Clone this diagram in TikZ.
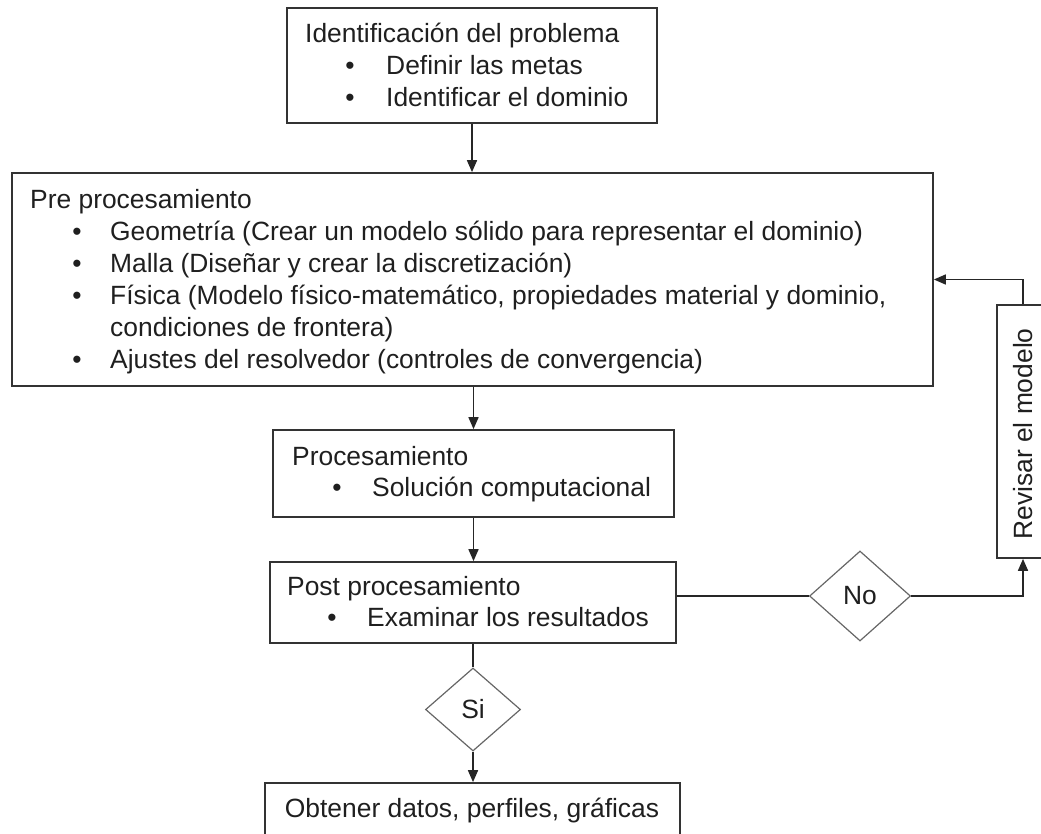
\documentclass[tikz,border=0pt]{standalone}
\usepackage{fontspec}
\setmainfont{Liberation Sans}
\usetikzlibrary{arrows.meta,shapes.geometric}
\begin{document}
\begin{tikzpicture}[x=1pt,y=-1pt,
  fnt/.style={font=\fontsize{26.4}{32}\selectfont, text=black!88},
  box/.style={draw=black!80, line width=1.7pt, inner sep=0, rectangle},
  dec/.style={draw=black!60, line width=1.2pt, diamond, inner sep=0, fnt},
  txt/.style={inner sep=0, anchor=base west, fnt},
  bul/.style={inner sep=0, anchor=base, fnt},
  conn/.style={draw=black!85, line width=1.6pt},
  arr/.style={conn, -{Triangle[length=12pt,width=10pt]}}]
\clip (0,0) rectangle (1041,833);
% boxes
\node[box, minimum width=370pt, minimum height=115pt] (top) at (472,65.5) {};
\node[box, minimum width=921pt, minimum height=213pt] (pre) at (472.5,279.5) {};
\node[box, minimum width=401pt, minimum height=87pt] (proc) at (473.5,473.5) {};
\node[box, minimum width=406pt, minimum height=81pt] (post) at (473,602.5) {};
\node[box, minimum width=415pt, minimum height=67pt] (bot) at (472.5,816.5) {};
\node[box, minimum width=52pt, minimum height=253pt] (rev) at (1023,431.5) {};
\node[dec, minimum width=101pt, minimum height=90pt] (no) at (860,596) {No};
\node[dec, minimum width=95pt, minimum height=83pt] (si) at (473,709.5) {Si};
% texts
\node[txt] (t1) at (305,42) {Identificación del problema};
\node[bul] (b1) at (350,74) {\textbullet};
\node[txt] (t2) at (386,74) {Definir las metas};
\node[bul] (b2) at (350,106) {\textbullet};
\node[txt] (t3) at (386,106) {Identificar el dominio};

\node[txt] (p0) at (30,208) {Pre procesamiento};
\node[bul] (pb1) at (77,240) {\textbullet};
\node[txt] (p1) at (110,240) {Geometría (Crear un modelo sólido para representar el dominio)};
\node[bul] (pb2) at (77,272) {\textbullet};
\node[txt] (p2) at (110,272) {Malla (Diseñar y crear la discretización)};
\node[bul] (pb3) at (77,304) {\textbullet};
\node[txt] (p3) at (110,304) {Física (Modelo físico-matemático, propiedades material y dominio,};
\node[txt] (p4) at (110,336) {condiciones de frontera)};
\node[bul] (pb5) at (77,368) {\textbullet};
\node[txt] (p5) at (110,368) {Ajustes del resolvedor (controles de convergencia)};

\node[txt] (r0) at (292,465) {Procesamiento};
\node[bul] (rb1) at (337,496) {\textbullet};
\node[txt] (r1) at (372,496) {Solución computacional};

\node[txt] (s0) at (287,595) {Post procesamiento};
\node[bul] (sb1) at (332,626) {\textbullet};
\node[txt] (s1) at (367,626) {Examinar los resultados};

\node[bul] (o1) at (472,817) {Obtener datos, perfiles, gráficas};
\node[inner sep=0, rotate=90, fnt] (rt) at (1023,434) {Revisar el modelo};
% connectors
\draw[arr] (top.south) -- (top.south |- pre.north);
\draw[arr] (proc.north |- pre.south) -- (proc.north);
\draw[arr] (proc.south) -- (proc.south |- post.north);
\draw[conn] (no.west -| post.east) -- (no.west);
\draw[arr] (no.east) -| (rev.south);
\draw[arr] (rev.north) |- (pre.east);
\draw[conn] (post.south -| si.north) -- (si.north);
\draw[arr] (si.south) -- (si.south |- bot.north);
\end{tikzpicture}
\end{document}
